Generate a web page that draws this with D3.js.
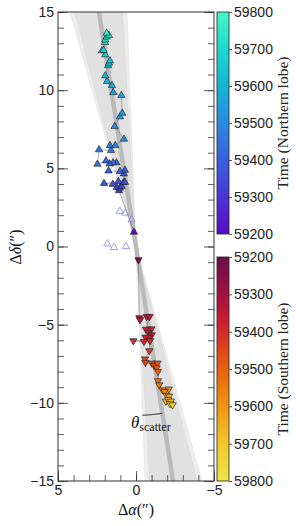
<!DOCTYPE html>
<html lang="en">
<head>
<meta charset="utf-8">
<title>Lobe motion</title>
<script src="https://cdn.jsdelivr.net/npm/d3@7"></script>
<style>
  body { margin: 0; background: #fff; }
  svg { font-family: "Liberation Serif", serif; }
  .tick text { font-size: 14px; fill: #222; }
  .tick line { stroke: #333; stroke-width: 0.8; }
</style>
</head>
<body>
<script>
// northern lobe: offsets (arcsec) and MJD
var northRa  = [0.13, 1.09, 1.24, 1.03, 0.92, 0.81, 1.13, 1.49, 2.05, 0.71, 0.78, 0.71, 1.03, 1.76,
                1.25, 1.47, 1.70, 1.92, 2.47, 2.37, 1.60, 1.67, 1.33, 0.77, 1.37, 1.03, 0.88, 0.94,
                1.46, 1.54, 1.86, 1.97, 1.79, 1.73, 1.67, 1.97, 2.18, 2.08, 1.99, 1.97, 1.88, 1.73, 1.88];
var northDec = [0.92, 3.58, 3.78, 3.74, 3.85, 4.09, 4.16, 3.98, 4.04, 4.11, 4.65, 4.88, 4.81, 4.84,
                5.36, 5.36, 5.29, 5.48, 5.27, 6.19, 6.14, 6.46, 6.46, 6.87, 7.68, 8.30, 8.53, 9.66,
                9.85, 10.30, 10.56, 10.92, 11.58, 11.73, 11.88, 12.27, 12.52, 12.55, 13.05, 13.22, 13.40, 13.50, 13.65];
var northT   = [59215, 59330, 59340, 59345, 59350, 59355, 59360, 59365, 59370, 59375, 59380, 59390, 59400, 59405,
                59415, 59420, 59425, 59430, 59440, 59450, 59460, 59470, 59480, 59490, 59510, 59525, 59535, 59550,
                59560, 59575, 59590, 59605, 59630, 59640, 59650, 59670, 59685, 59690, 59705, 59715, 59730, 59745, 59760];

// excluded northern epochs (open symbols)
var hollowRa  = [1.03, 0.69, 0.28, 1.84, 1.41, 0.64];
var hollowDec = [2.25, 2.14, 1.71, 0.17, -0.06, 0.0];

// southern lobe
var southRa  = [-0.16, -0.21, -0.26, -0.69, -0.87, -0.64, -0.99, -0.83, -1.01, -0.83, -0.61, -0.51, 0.17, -0.90,
                -0.85, -0.58, -0.60, -1.01, -1.15, -1.38, -1.33, -1.41, -1.41, -1.49, -1.70, -2.10, -1.83, -1.96,
                -2.12, -1.92, -2.07, -2.24, -2.18, -2.34];
var southDec = [-0.85, -4.56, -4.69, -4.48, -4.48, -5.30, -5.27, -5.52, -5.65, -5.80, -5.80, -6.08, -6.03, -6.03,
                -6.67, -7.20, -7.42, -7.46, -7.60, -7.46, -7.76, -8.00, -8.59, -8.85, -9.17, -9.12, -9.28, -9.53,
                -9.58, -9.90, -9.81, -9.90, -10.06, -10.13];
var southT   = [59225, 59330, 59335, 59340, 59345, 59360, 59365, 59370, 59375, 59380, 59385, 59390, 59395, 59400,
                59430, 59450, 59455, 59470, 59475, 59480, 59490, 59500, 59530, 59545, 59565, 59575, 59590, 59610,
                59630, 59650, 59670, 59690, 59720, 59750];

// jet axis and opening (degrees, from north towards positive RA offset)
var jetAngle = 9.0;
var scatterOuter = 6.8;
var scatterInner = 5.7;

var xMajor = [5, 0, -5];
var xMinor = d3.range(-5, 6);
var yMajor = [-15, -10, -5, 0, 5, 10, 15];
var yMinor = d3.range(-15, 16);
var timeTicks = [59200, 59300, 59400, 59500, 59600, 59700, 59800];

var northStops = ["#5a0bc2", "#4a36d6", "#3a5fdc", "#2a8ade", "#16b4d8", "#1ed8cf", "#46f6c4"];
var southStops = ["#6a1046", "#9c0f40", "#c91e32", "#e04a18", "#ec760d", "#f2a41a", "#f0cd2e", "#eee44a"];

var W = 296, H = 526;
var L = 58, R = 214, T = 12, B = 481;

var svg = d3.select("body").append("svg").attr("width", W).attr("height", H);

var x = d3.scaleLinear().domain([5, -5]).range([L, R]);
var y = d3.scaleLinear().domain([-15, 15]).range([B, T]);

function cmap(stops) {
  return d3.scaleLinear()
    .domain(stops.map(function(d, i) { return 59200 + 600 * i / (stops.length - 1); }))
    .range(stops).clamp(true);
}
var colN = cmap(northStops), colS = cmap(southStops);

svg.append("clipPath").attr("id", "plotclip")
  .append("rect").attr("x", L).attr("y", T).attr("width", R - L).attr("height", B - T);

var plot = svg.append("g").attr("clip-path", "url(#plotclip)");

// scatter cones
function dir(a, r) {
  var t = a * Math.PI / 180;
  return [r * Math.sin(t), r * Math.cos(t)];
}
function cone(h) {
  var big = 40;
  var p1 = dir(jetAngle - h, big), p2 = dir(jetAngle + h, big);
  return "M" + x(0) + "," + y(0) +
    "L" + x(p1[0]) + "," + y(p1[1]) + "L" + x(p2[0]) + "," + y(p2[1]) + "Z" +
    "M" + x(0) + "," + y(0) +
    "L" + x(-p1[0]) + "," + y(-p1[1]) + "L" + x(-p2[0]) + "," + y(-p2[1]) + "Z";
}
[scatterOuter, scatterInner].forEach(function(h) {
  plot.append("path").attr("d", cone(h))
    .attr("fill", "#c8c8c8").attr("fill-opacity", 0.33)
    .attr("stroke", "#c4c4c4").attr("stroke-width", 0.5).attr("stroke-opacity", 0.35);
});

var a1 = dir(jetAngle, 40);
plot.append("line")
  .attr("x1", x(a1[0])).attr("y1", y(a1[1]))
  .attr("x2", x(-a1[0])).attr("y2", y(-a1[1]))
  .attr("stroke", "#bababa").attr("stroke-width", 4.5);

// connecting tracks
var line = d3.line().x(function(d) { return x(d[0]); }).y(function(d) { return y(d[1]); });
var north = northRa.map(function(d, i) { return [d, northDec[i], northT[i]]; });
var south = southRa.map(function(d, i) { return [d, southDec[i], southT[i]]; });

[north, south].forEach(function(s) {
  plot.append("path").attr("d", line(s))
    .attr("fill", "none").attr("stroke", "#555").attr("stroke-width", 0.55).attr("stroke-opacity", 0.8);
});

var tri = d3.symbol().type(d3.symbolTriangle).size(23);

plot.selectAll(".hollow").data(hollowRa).enter().append("path")
  .attr("class", "hollow")
  .attr("d", tri)
  .attr("transform", function(d, i) { return "translate(" + x(d) + "," + y(hollowDec[i]) + ")"; })
  .attr("fill", "none").attr("stroke", "#8888ee").attr("stroke-width", 0.8);

plot.selectAll(".north").data(north).enter().append("path")
  .attr("class", "north")
  .attr("d", tri)
  .attr("transform", function(d) { return "translate(" + x(d[0]) + "," + y(d[1]) + ")"; })
  .attr("fill", function(d) { return colN(d[2]); })
  .attr("stroke", "#1a1a1a").attr("stroke-width", 0.6);

plot.selectAll(".south").data(south).enter().append("path")
  .attr("class", "south")
  .attr("d", tri)
  .attr("transform", function(d) { return "translate(" + x(d[0]) + "," + y(d[1]) + ") rotate(180)"; })
  .attr("fill", function(d) { return colS(d[2]); })
  .attr("stroke", "#1a1a1a").attr("stroke-width", 0.6);

// theta_scatter arc
var arcR = 10.8;
var arcPts = d3.range(0, 21).map(function(i) {
  var a = jetAngle - scatterOuter + scatterOuter * i / 20;
  var p = dir(a, arcR);
  return [-p[0], -p[1]];
});
svg.append("path").attr("d", line(arcPts))
  .attr("fill", "none").attr("stroke", "#111").attr("stroke-width", 1);

var th = svg.append("text").attr("x", 131).attr("y", 428).attr("fill", "#111");
th.append("tspan").attr("font-size", 17).attr("font-style", "italic").text("θ");
th.append("tspan").attr("font-size", 12).attr("dy", 3).text("scatter");

// axes
function clean(g) { g.select(".domain").remove(); }

svg.append("g").attr("transform", "translate(" + L + ",0)")
  .call(d3.axisLeft(y).tickValues(yMinor).tickSize(-6).tickFormat("")).call(clean);
svg.append("g").attr("transform", "translate(" + L + ",0)")
  .call(d3.axisLeft(y).tickValues(yMajor).tickSize(-10).tickPadding(4)).call(clean);
svg.append("g").attr("transform", "translate(" + R + ",0)")
  .call(d3.axisRight(y).tickValues(yMinor).tickSize(-6).tickFormat("")).call(clean);
svg.append("g").attr("transform", "translate(" + R + ",0)")
  .call(d3.axisRight(y).tickValues(yMajor).tickSize(-10).tickFormat("")).call(clean);
svg.append("g").attr("transform", "translate(0," + B + ")")
  .call(d3.axisBottom(x).tickValues(xMinor).tickSize(-6).tickFormat("")).call(clean);
svg.append("g").attr("transform", "translate(0," + B + ")")
  .call(d3.axisBottom(x).tickValues(xMajor).tickSize(-10).tickPadding(4)).call(clean);

svg.append("rect").attr("x", L).attr("y", T).attr("width", R - L).attr("height", B - T)
  .attr("fill", "none").attr("stroke", "#333").attr("stroke-width", 1);

var yl = svg.append("text").attr("transform", "translate(21,247) rotate(-90)")
  .attr("text-anchor", "middle").attr("font-size", 16).attr("fill", "#111");
yl.append("tspan").text("Δ");
yl.append("tspan").attr("font-style", "italic").text("δ");
yl.append("tspan").text("(″)");

var xl = svg.append("text").attr("x", 136).attr("y", 515)
  .attr("text-anchor", "middle").attr("font-size", 16).attr("fill", "#111");
xl.append("tspan").text("Δ");
xl.append("tspan").attr("font-style", "italic").text("α");
xl.append("tspan").text("(″)");

// colorbars
var defs = svg.append("defs");
function colorbar(id, stops, y0, y1, label, reversed) {
  var g = defs.append("linearGradient").attr("id", id)
    .attr("x1", 0).attr("x2", 0).attr("y1", reversed ? 0 : 1).attr("y2", reversed ? 1 : 0);
  stops.forEach(function(c, i) {
    g.append("stop").attr("offset", i / (stops.length - 1)).attr("stop-color", c);
  });
  var cx0 = 217, cw = 12;
  svg.append("rect").attr("x", cx0).attr("y", y0).attr("width", cw).attr("height", y1 - y0)
    .attr("fill", "url(#" + id + ")").attr("stroke", "#222").attr("stroke-width", 0.8);
  var s = d3.scaleLinear().domain([59200, 59800]).range(reversed ? [y0, y1] : [y1, y0]);
  svg.append("g").attr("transform", "translate(" + (cx0 + cw) + ",0)")
    .call(d3.axisRight(s).tickValues(timeTicks).tickSize(3).tickPadding(2).tickFormat(d3.format("d")))
    .call(clean);
  svg.append("text").attr("transform", "translate(288," + ((y0 + y1) / 2) + ") rotate(-90)")
    .attr("text-anchor", "middle").attr("font-size", 15.5).attr("fill", "#222").text(label);
}
colorbar("gN", northStops, T, 234, "Time (Northern lobe)", false);
colorbar("gS", southStops, 257, B, "Time (Southern lobe)", true);
</script>
</body>
</html>
